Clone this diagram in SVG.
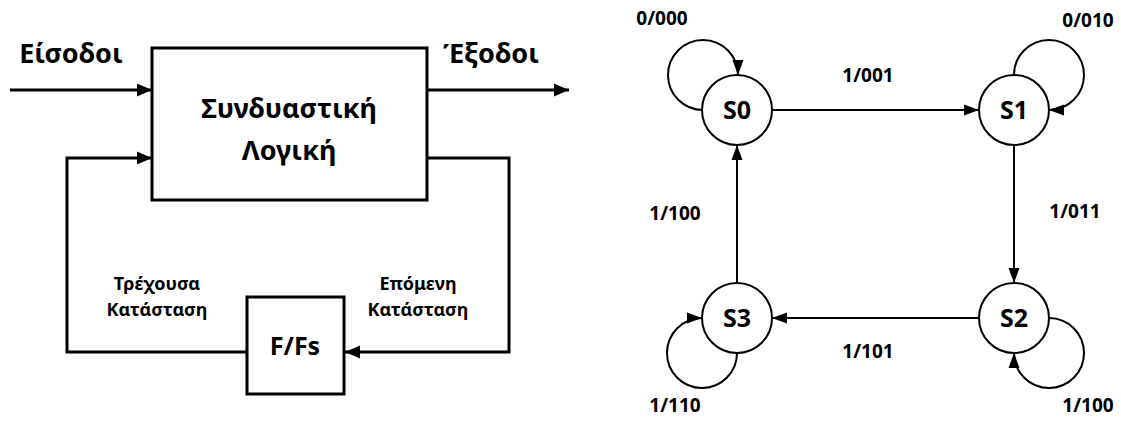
<svg xmlns="http://www.w3.org/2000/svg" width="1121" height="421" viewBox="0 0 1121 421">
  <style>
    .bg { fill: #ffffff; }
    .box { fill: #ffffff; stroke: #000000; stroke-width: 3; }
    .state { fill: #ffffff; stroke: #000000; stroke-width: 2; }
    .wire { fill: none; stroke: #000000; stroke-width: 3; }
    .edge { fill: none; stroke: #000000; stroke-width: 2; }
    text { font-family: "Noto Sans", "Open Sans", sans-serif; font-weight: bold; fill: #000000; text-anchor: middle; }
    .big { font-size: 27px; }
    .mid { font-size: 25px; }
    .small { font-size: 18px; }
    .lbl { font-size: 19px; }
  </style>
  <defs>
    <marker id="arrowBig" markerUnits="userSpaceOnUse" markerWidth="16" markerHeight="14" refX="15" refY="7" orient="auto">
      <path d="M0,0.5 L15,7 L0,13.5 z" fill="#000000"/>
    </marker>
    <marker id="arrow" markerUnits="userSpaceOnUse" markerWidth="16" markerHeight="12" refX="15" refY="6" orient="auto">
      <path d="M0,0.5 L15,6 L0,11.5 z" fill="#000000"/>
    </marker>
  </defs>

  <rect class="bg" x="0" y="0" width="1121" height="421"/>

  <!-- block diagram of the sequential circuit -->
  <g id="connectors-block">
    <path class="wire" d="M10,90 L152,90" marker-end="url(#arrowBig)"/>
    <path class="wire" d="M427,90 L569,90" marker-end="url(#arrowBig)"/>
    <path class="wire" d="M427,158 L509,158 L509,352 L345,352" marker-end="url(#arrowBig)"/>
    <path class="wire" d="M247,352 L67,352 L67,158 L152,158" marker-end="url(#arrowBig)"/>
  </g>

  <g id="logic">
    <rect class="box" x="152" y="48" width="275" height="152"/>
    <text class="big" x="289" y="118">Συνδυαστική</text>
    <text class="big" x="289" y="160">Λογική</text>
  </g>

  <g id="flipflops">
    <rect class="box" x="247" y="297" width="97" height="97"/>
    <text class="mid" x="295" y="355">F/Fs</text>
  </g>

  <g id="block-labels">
    <text class="big" x="71" y="63">Είσοδοι</text>
    <text class="big" x="491" y="63">Έξοδοι</text>
    <text class="small" x="157" y="290">Τρέχουσα</text>
    <text class="small" x="157" y="316">Κατάσταση</text>
    <text class="small" x="418" y="290">Επόμενη</text>
    <text class="small" x="418" y="316">Κατάσταση</text>
  </g>

  <!-- state diagram -->
  <g id="connectors-states">
    <path class="edge" d="M772,110 L979,110" marker-end="url(#arrow)"/>
    <path class="edge" d="M1014,145 L1014,283" marker-end="url(#arrow)"/>
    <path class="edge" d="M979,318 L772,318" marker-end="url(#arrow)"/>
    <path class="edge" d="M737,283 L737,145" marker-end="url(#arrow)"/>
    <path class="edge" d="M703,110 A35,35 0 1 1 738,75" marker-end="url(#arrow)"/>
    <path class="edge" d="M1014,75 A35,35 0 1 1 1049,110" marker-end="url(#arrow)"/>
    <path class="edge" d="M1049,318 A35,35 0 1 1 1014,353" marker-end="url(#arrow)"/>
    <path class="edge" d="M737,353 A35,35 0 1 1 702,318" marker-end="url(#arrow)"/>
    <text class="lbl" x="868" y="82">1/001</text>
    <text class="lbl" x="1075" y="218">1/011</text>
    <text class="lbl" x="868" y="358">1/101</text>
    <text class="lbl" x="675" y="220">1/100</text>
    <text class="lbl" x="662" y="25">0/000</text>
    <text class="lbl" x="1088" y="27">0/010</text>
    <text class="lbl" x="1088" y="412">1/100</text>
    <text class="lbl" x="675" y="412">1/110</text>
  </g>

  <g id="S0">
    <circle class="state" cx="737" cy="110" r="35"/>
    <text class="mid" x="737" y="119">S0</text>
  </g>
  <g id="S1">
    <circle class="state" cx="1014" cy="110" r="35"/>
    <text class="mid" x="1014" y="119">S1</text>
  </g>
  <g id="S2">
    <circle class="state" cx="1014" cy="318" r="35"/>
    <text class="mid" x="1014" y="327">S2</text>
  </g>
  <g id="S3">
    <circle class="state" cx="737" cy="318" r="35"/>
    <text class="mid" x="737" y="327">S3</text>
  </g>
</svg>
